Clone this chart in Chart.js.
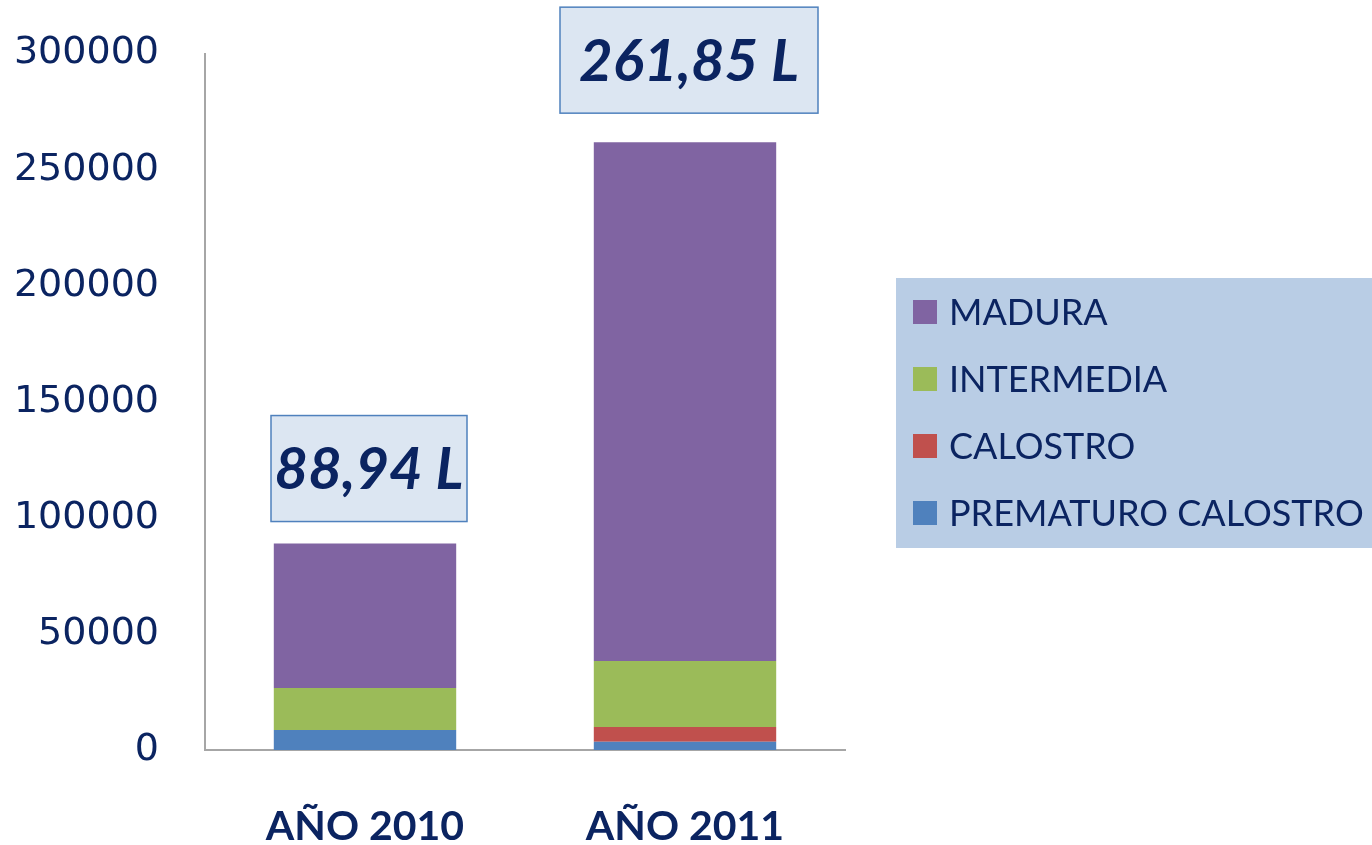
<!DOCTYPE html>
<html><head><meta charset="utf-8">
<script src="https://cdn.jsdelivr.net/npm/chart.js@4"></script>
<style>html,body{margin:0;padding:0;background:#fff}#wrap{width:1372px;height:845px}</style>
</head><body><div id="wrap"><canvas id="c" width="1372" height="845"></canvas></div>
<script>
const categories = ['AÑO 2010', 'AÑO 2011'];
const prematuroCalostro = [8600, 3600];
const calostro = [0, 6300];
const intermedia = [18100, 28400];
const madura = [62240, 223550];
const totalLabels = ['88,94 L', '261,85 L'];
const yTicks = [0, 50000, 100000, 150000, 200000, 250000, 300000];

const NAVY = '#0B2461';
const datasets = [
  {label: 'PREMATURO CALOSTRO', data: prematuroCalostro, backgroundColor: '#4F81BD'},
  {label: 'CALOSTRO', data: calostro, backgroundColor: '#C0504D'},
  {label: 'INTERMEDIA', data: intermedia, backgroundColor: '#9BBB59'},
  {label: 'MADURA', data: madura, backgroundColor: '#8064A2'}
].map(d => Object.assign(d, {barPercentage: 0.57, categoryPercentage: 1.0, stack: 's'}));

const boxWidths = [196, 258];
const boxGaps = [22, 29];

const overlay = {
  id: 'overlay',
  afterDraw(chart) {
    const ctx = chart.ctx;
    const topMeta = chart.getDatasetMeta(datasets.length - 1);
    topMeta.data.forEach((bar, i) => {
      const w = boxWidths[i], h = 106;
      const cx = bar.x + 4, bottom = bar.y - boxGaps[i];
      ctx.save();
      ctx.fillStyle = '#DCE6F2';
      ctx.fillRect(cx - w/2, bottom - h, w, h);
      ctx.strokeStyle = '#4F81BD';
      ctx.lineWidth = 1.5;
      ctx.strokeRect(cx - w/2, bottom - h, w, h);
      ctx.fillStyle = NAVY;
      ctx.font = 'italic bold 58px Lato';
      ctx.textAlign = 'center';
      ctx.textBaseline = 'middle';
      ctx.fillText(totalLabels[i], cx, bottom - h/2 + 2);
      ctx.restore();
    });
    ctx.save();
    ctx.fillStyle = '#B9CDE5';
    ctx.fillRect(896, 278, 476, 270);
    const items = datasets.slice().reverse();
    ctx.font = '36px Lato';
    ctx.textBaseline = 'middle';
    items.forEach((d, i) => {
      const y = 312 + i * 67;
      ctx.fillStyle = d.backgroundColor;
      ctx.fillRect(913, y - 12, 24, 24);
      ctx.fillStyle = NAVY;
      ctx.fillText(d.label, 949, y + 1);
    });
    ctx.restore();
  }
};

new Chart(document.getElementById('c'), {
  type: 'bar',
  data: {labels: categories, datasets},
  options: {
    responsive: false,
    animation: false,
    layout: {padding: {top: 52, right: 527, bottom: 0, left: 0}},
    plugins: {legend: {display: false}, tooltip: {enabled: false}},
    scales: {
      x: {
        stacked: true,
        grid: {display: false, drawTicks: false},
        border: {color: '#A6A6A6', width: 2},
        ticks: {color: NAVY, font: {family: 'Lato', size: 41, weight: 'bold'}, padding: 52},
        afterFit(s) { s.height = 95; }
      },
      y: {
        stacked: true,
        min: 0, max: 300000,
        afterBuildTicks(s) { s.ticks = yTicks.map(v => ({value: v})); },
        grid: {display: false, drawTicks: false},
        border: {color: '#A6A6A6', width: 2},
        ticks: {color: NAVY, font: {family: 'DejaVu Sans', size: 38, lineHeight: 0.4}, padding: 46,
                callback: v => String(v)},
        afterFit(s) { s.width = 205; }
      }
    }
  },
  plugins: [overlay]
});
</script></body></html>
